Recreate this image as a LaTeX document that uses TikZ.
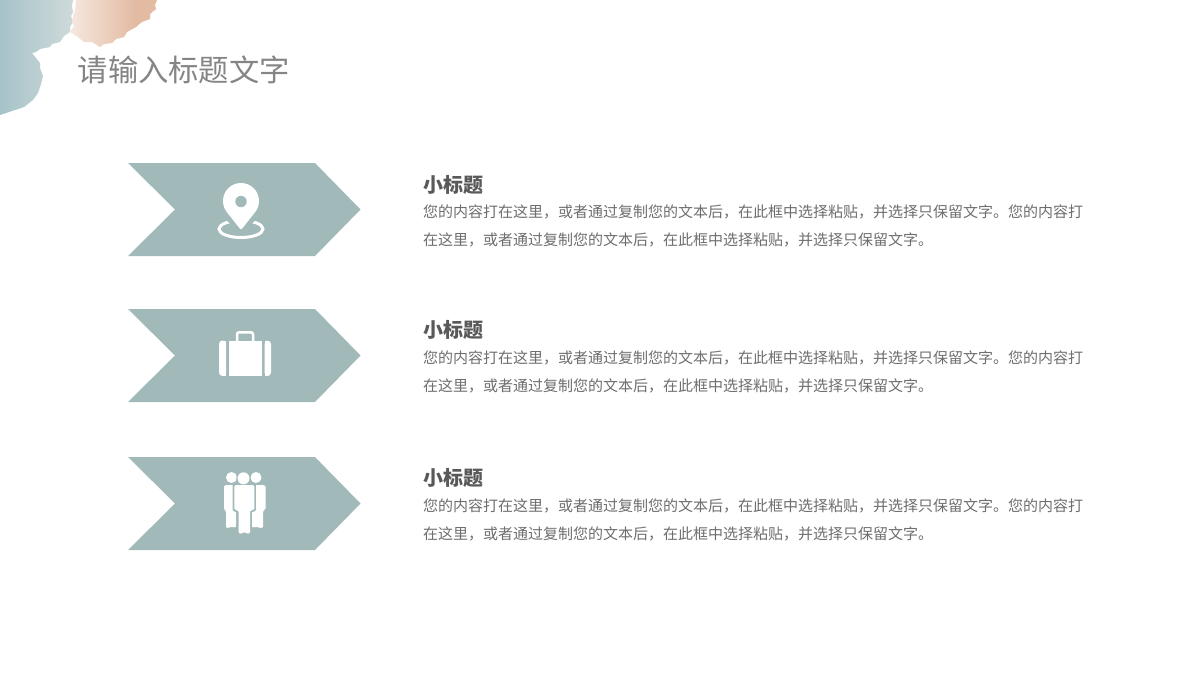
\documentclass[tikz,border=0pt]{standalone}
\usepackage{fontspec}
\setmainfont{Noto Sans CJK SC}
\definecolor{chev}{HTML}{A2B9B9}
\definecolor{titlegray}{HTML}{858585}
\definecolor{subgray}{HTML}{595959}
\definecolor{bodygray}{HTML}{6E6E6E}
\definecolor{wbluea}{HTML}{A6C3C9}
\definecolor{wblueb}{HTML}{CFDADA}
\definecolor{wpeacha}{HTML}{F6E8DF}
\definecolor{wpeachb}{HTML}{E3BBA3}
\tikzset{
  chevshape/.style={fill=chev,draw=none},
  iconfill/.style={fill=white,draw=none},
  titletext/.style={anchor=west,inner sep=0pt,font=\fontsize{30.3}{30.3}\selectfont,text=titlegray},
  subtext/.style={anchor=west,inner sep=0pt,font=\fontsize{20}{20}\selectfont\bfseries,text=subgray},
  bodytext/.style={anchor=west,inner sep=0pt,font=\fontsize{15}{15}\selectfont,text=bodygray},
}
\newcommand{\textrow}[3]{%
  \node[subtext] (sub#1) at (423,#2) {小标题};
  \node[bodytext] (bodya#1) at (423,#3) {您的内容打在这里，或者通过复制您的文本后，在此框中选择粘贴，并选择只保留文字。您的内容打};
  \node[bodytext] (bodyb#1) at (423,#3+27.8) {在这里，或者通过复制您的文本后，在此框中选择粘贴，并选择只保留文字。};
}
\newcommand{\chevron}[1]{%
  \fill[chevshape] (128,#1) -- (315,#1) -- (360.5,#1+46.5) -- (315,#1+93) -- (128,#1+93) -- (175,#1+46.5) -- cycle;
}
\begin{document}
\begin{tikzpicture}[x=1pt,y=-1pt]
\useasboundingbox (0,0) rectangle (1200,675);
\fill[white] (0,0) rectangle (1200,675);
% watercolour: blue wash, smooth inside with a torn edge
\begin{scope}
\clip (0,0) -- (73,0) -- (72,6) -- (73,12) -- (71,16) -- (73,22) -- (70,27) -- (70,32) -- (64,36) -- (60,42) -- (52,44) -- (50,47) -- (40,49) -- (36,52) -- (32,53) -- (36,58) -- (40,63) -- (40,68) -- (43,76) -- (41,84) -- (38,93) -- (33,100) -- (24,107) -- (12,111) -- (0,115) -- cycle;
\shade[left color=wbluea,right color=wblueb] (0,0) rectangle (74,118);
\end{scope}
% watercolour: peach wash
\begin{scope}
\clip (76,0) -- (157,0) -- (155,5) -- (156,9) -- (150,14) -- (150,19) -- (142,22) -- (136,27) -- (127,32) -- (124,37) -- (116,39) -- (112,43) -- (104,44) -- (100,47) -- (92,42) -- (84,42) -- (78,37) -- (70,32) -- (74,26) -- (72,20) -- (75,10) -- cycle;
\shade[left color=wpeacha,right color=wpeachb] (70,0) rectangle (135,50);
\fill[wpeachb] (135,0) rectangle (160,50);
\end{scope}
\node[titletext] (title) at (77.5,70) {请输入标题文字};
% chevrons
\chevron{163}
\chevron{309}
\chevron{457}
% pin icon
\draw[white,line width=3pt] (241,229) ellipse [x radius=22,y radius=8.5];
\fill[chev] (241,233) -- (225,219) -- (257,219) -- cycle;
\fill[iconfill] (241,201) circle [radius=18];
\fill[iconfill,rounded corners=1pt] (241,230) -- (226.9,212.2) -- (255.1,212.2) -- cycle;
\fill[chev] (241,201.5) circle [radius=5.7];
% briefcase icon
\fill[iconfill] (229,340.5) rectangle (262.3,376);
\fill[iconfill,rounded corners=3.5pt] (226,340.5) -- (226,376) -- (219,376) -- (219,340.5) -- cycle;
\fill[iconfill] (223,340.5) rectangle (226,376);
\fill[iconfill,rounded corners=3.5pt] (264.5,340.5) -- (264.5,376) -- (271,376) -- (271,340.5) -- cycle;
\fill[iconfill] (264.5,340.5) rectangle (267.5,376);
\draw[white,line width=2.5pt,rounded corners=2pt] (237,341) -- (237,332.3) -- (253,332.3) -- (253,341);
% people icon
\fill[iconfill] (231.5,477.5) circle [radius=5.5];
\fill[iconfill] (256,477.5) circle [radius=5.5];
\fill[iconfill,rounded corners=1.5pt] (224,485) -- (236,485) -- (236,528) -- (232,526.5) -- (228,528) -- (226,528) -- (226,510) -- (224,510) -- cycle;
\fill[iconfill,rounded corners=1.5pt] (265.5,485) -- (252,485) -- (252,528) -- (256,526.5) -- (260,528) -- (263,528) -- (263,510) -- (265.5,510) -- cycle;
\fill[chev,rounded corners=2pt] (232.7,483.5) -- (255.9,483.5) -- (255.9,511.5) -- (251.6,511.5) -- (251.6,535) -- (236.9,535) -- (236.9,511.5) -- (232.7,511.5) -- cycle;
\fill[chev] (243.5,478.3) circle [radius=7.2];
\fill[iconfill] (243.5,478.3) circle [radius=6];
\fill[iconfill,rounded corners=1.5pt] (234.3,485) -- (254.3,485) -- (254.3,510) -- (250,510) -- (250,533.5) -- (245.8,533.5) -- (244.3,531.5) -- (242.8,533.5) -- (238.5,533.5) -- (238.5,510) -- (234.3,510) -- cycle;
% texts
\textrow{1}{185}{212}
\textrow{2}{330}{357.7}
\textrow{3}{478}{505.7}
\end{tikzpicture}
\end{document}
